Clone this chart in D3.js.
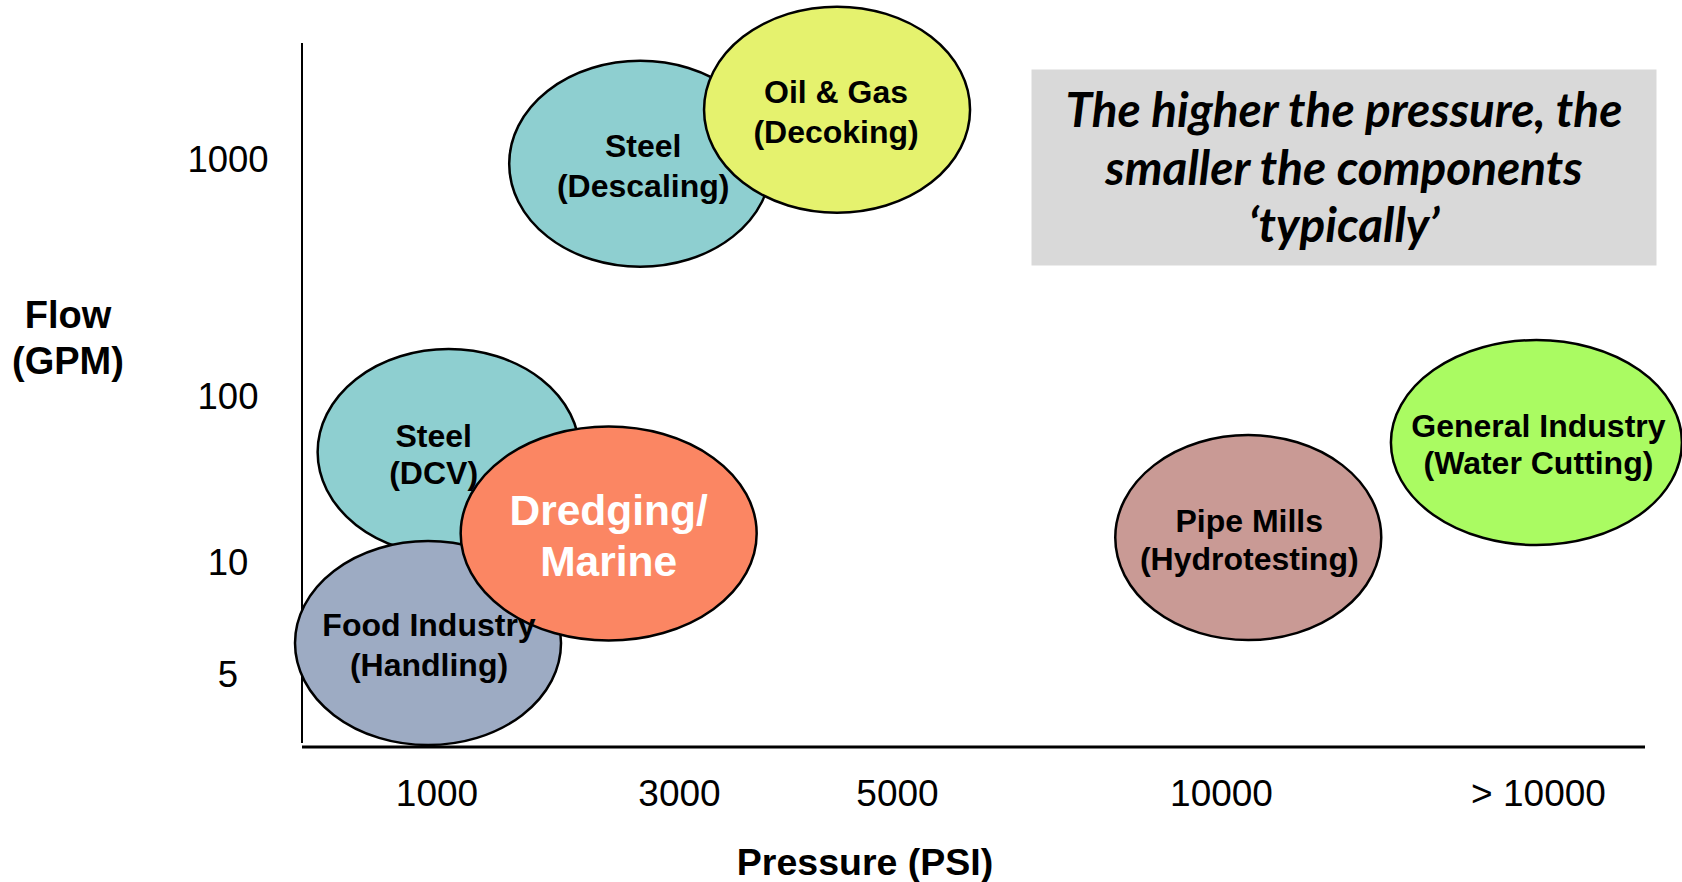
<!DOCTYPE html>
<html>
<head>
<meta charset="utf-8">
<script src="https://cdn.jsdelivr.net/npm/d3@7/dist/d3.min.js"></script>
<style>
  html, body { margin: 0; padding: 0; background: #ffffff; }
  svg { display: block; }
</style>
</head>
<body>
<svg id="chart" width="1682" height="882"></svg>
<script>
// ---------------- DATA ----------------
const xTickValues = [1000, 3000, 5000, 10000, 15000];
const xTickLabels = ["1000", "3000", "5000", "10000", "> 10000"];
const yTickValues = [5, 10, 100, 1000];
const yTickLabels = ["5", "10", "100", "1000"];

const bubbleNames = [
  ["Steel", "(Descaling)"],
  ["Oil & Gas", "(Decoking)"],
  ["Steel", "(DCV)"],
  ["Food Industry", "(Handling)"],
  ["Dredging/", "Marine"],
  ["Pipe Mills", "(Hydrotesting)"],
  ["General Industry", "(Water Cutting)"]
];
const bubblePressure = [2680, 4450, 1100, 930, 2420, 10430, 14975];   // PSI
const bubbleFlow     = [980, 1185, 69.5, 6.36, 25.2, 23.0, 74.7];     // GPM
const bubbleColors   = ["#8ECFD0", "#E5F26E", "#8ECFD0", "#9DABC3", "#FB8663", "#C99A95", "#AAFB62"];

const noteLines = ["The higher the pressure, the", "smaller the components", "\u2018typically\u2019"];

// ---------------- LAYOUT ----------------
const bubbleRadii = [[131, 103], [133, 103], [131, 103], [133, 102], [148, 107], [133, 102.5], [145.5, 102.5]];
const labelDx = [3, -1, -15, 1, 0, 1, 2];
const labelSize = [32, 32, 32, 32, 42.5, 32, 32];
const labelGap = [40, 39.5, 37, 40, 51.5, 38.5, 37];
const labelColor = ["#000", "#000", "#000", "#000", "#fff", "#000", "#000"];

const svg = d3.select("#chart");

const x = d3.scaleLinear().domain(xTickValues).range([436.5, 679, 897, 1221, 1538]);
const y = d3.scaleLinear().domain(yTickValues).range([673.5, 561.5, 396, 158.5]);

const axisX0 = 302, axisY0 = 747;
const font = "'Liberation Sans', Arial, sans-serif";

// axes lines
svg.append("line").attr("x1", axisX0).attr("x2", axisX0).attr("y1", 43).attr("y2", 743)
  .attr("stroke", "#000").attr("stroke-width", 2);
svg.append("line").attr("x1", axisX0).attr("x2", 1645).attr("y1", axisY0).attr("y2", axisY0)
  .attr("stroke", "#000").attr("stroke-width", 3);

// y axis tick labels
const yAxis = d3.axisLeft(y).tickValues(yTickValues).tickSize(0)
  .tickFormat((d, i) => yTickLabels[i]);
const gy = svg.append("g").attr("transform", `translate(${axisX0},0)`).call(yAxis);
gy.select(".domain").remove();
gy.selectAll("text")
  .attr("x", -74).attr("dy", "0.35em")
  .attr("text-anchor", "middle")
  .style("font-family", font)
  .style("font-size", "36.5px").attr("fill", "#000");

// x axis tick labels
const xAxis = d3.axisBottom(x).tickValues(xTickValues).tickSize(0)
  .tickFormat((d, i) => xTickLabels[i]);
const gx = svg.append("g").attr("transform", `translate(0,${axisY0})`).call(xAxis);
gx.select(".domain").remove();
gx.selectAll("text")
  .attr("y", 46).attr("dy", "0.35em")
  .style("font-family", font)
  .style("font-size", "37px").attr("fill", "#000");

// axis titles
svg.append("text").attr("x", 68).attr("y", 315).attr("dy", "0.35em")
  .attr("text-anchor", "middle").style("font-family", font)
  .style("font-weight", "bold").style("font-size", "38px").text("Flow");
svg.append("text").attr("x", 68).attr("y", 361).attr("dy", "0.35em")
  .attr("text-anchor", "middle").style("font-family", font)
  .style("font-weight", "bold").style("font-size", "38px").text("(GPM)");
svg.append("text").attr("x", 865).attr("y", 862).attr("dy", "0.35em")
  .attr("text-anchor", "middle").style("font-family", font)
  .style("font-weight", "bold").style("font-size", "37.5px").text("Pressure (PSI)");

// bubbles
const idx = d3.range(bubbleNames.length);
svg.append("g").selectAll("ellipse").data(idx).join("ellipse")
  .attr("cx", i => x(bubblePressure[i]))
  .attr("cy", i => y(bubbleFlow[i]))
  .attr("rx", i => bubbleRadii[i][0])
  .attr("ry", i => bubbleRadii[i][1])
  .attr("fill", i => bubbleColors[i])
  .attr("stroke", "#000").attr("stroke-width", 2.5);

// bubble labels
const lg = svg.append("g").selectAll("text").data(idx).join("text")
  .attr("text-anchor", "middle")
  .style("font-family", font)
  .style("font-weight", "bold")
  .style("font-size", i => labelSize[i] + "px")
  .attr("fill", i => labelColor[i]);
lg.each(function(i) {
  const t = d3.select(this);
  const cx = x(bubblePressure[i]) + labelDx[i];
  const cy = y(bubbleFlow[i]) + 2;
  bubbleNames[i].forEach((ln, k) => {
    t.append("tspan").attr("x", cx)
      .attr("y", cy + (k - 0.5) * labelGap[i])
      .attr("dy", "0.35em").text(ln);
  });
});

// note box
svg.append("rect").attr("x", 1031.5).attr("y", 69.5).attr("width", 625).attr("height", 196)
  .attr("fill", "#D9D9D9");
const noteTexts = svg.append("g").selectAll("text").data(noteLines).join("text")
  .attr("x", 1344).attr("y", (d, i) => 110.5 + i * 57.5).attr("dy", "0.35em")
  .attr("text-anchor", "middle")
  .style("font-family", "Lato, 'Open Sans', sans-serif")
  .style("font-weight", "bold").style("font-style", "italic")
  .style("font-size", "44px").attr("fill", "#000")
  .text(d => d);
const len0 = noteTexts.nodes()[0].getComputedTextLength();
const fs = 44 * 557 / len0;
noteTexts.style("font-size", fs + "px");
</script>
</body>
</html>
